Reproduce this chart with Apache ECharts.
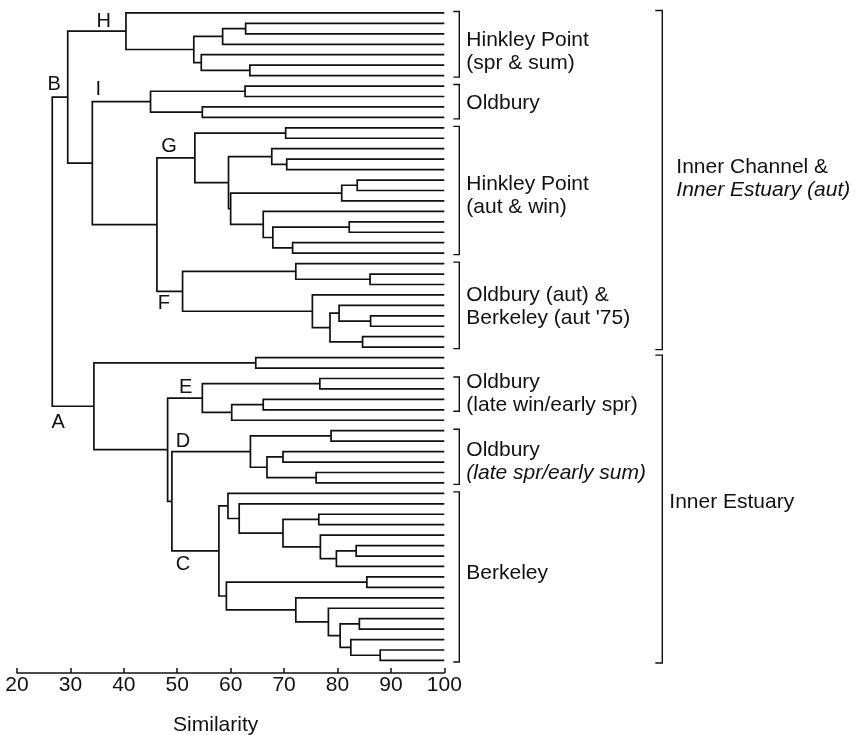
<!DOCTYPE html>
<html><head><meta charset="utf-8">
<script src="https://cdn.jsdelivr.net/npm/echarts@6/dist/echarts.min.js"></script>
<style>html,body{margin:0;padding:0;background:#fff}#c{width:860px;height:735px}</style>
</head><body><div id="c"></div>
<script>
// ---------- data ----------
const leafCount = 63;             // samples (leaves), top to bottom
const xTicks = [20, 30, 40, 50, 60, 70, 80, 90, 100];
const axisTitle = 'Similarity';
// linkage rows: [childA, childB, similarity]; leaves are 0..62, node k is leafCount + row index
const linkage = [
  [1, 2, 62.8], [63, 3, 58.5], [5, 6, 63.6], [4, 65, 54.5], [64, 66, 53.1], [0, 67, 40.4],
  [7, 8, 62.7], [9, 10, 54.7], [69, 70, 45.0],
  [11, 12, 70.3], [14, 15, 70.5], [13, 73, 67.7], [16, 17, 83.7], [75, 18, 80.8],
  [20, 21, 82.2], [22, 23, 71.6], [77, 78, 67.9], [19, 79, 66.1], [76, 80, 60.0],
  [74, 81, 59.6], [72, 82, 53.3],
  [25, 26, 86.1], [24, 84, 72.2], [29, 30, 86.2], [28, 86, 80.3], [31, 32, 84.7],
  [87, 88, 78.6], [27, 89, 75.3], [85, 90, 51.0],
  [83, 91, 46.2], [71, 92, 34.1], [68, 93, 29.5],
  [33, 34, 64.7],
  [35, 36, 76.7], [37, 38, 66.1], [97, 39, 60.2], [96, 98, 54.7],
  [40, 41, 78.8], [42, 43, 69.8], [44, 45, 76.0], [101, 102, 66.8], [100, 103, 63.7],
  [48, 49, 76.5], [51, 52, 83.5], [106, 53, 79.8], [50, 107, 76.8], [105, 108, 69.8],
  [47, 109, 61.6], [46, 110, 59.5],
  [54, 55, 85.5], [58, 59, 84.1], [61, 62, 88.0], [60, 114, 82.5], [113, 115, 80.5],
  [57, 116, 78.3], [56, 117, 72.2], [112, 118, 59.2], [111, 119, 57.8],
  [104, 120, 49.0], [99, 121, 48.2], [95, 122, 34.4], [94, 123, 26.6]
];
// small groups (first leaf, last leaf, text lines, row of first text line)
const groupFirst = [0, 7, 11, 24, 35, 40, 46];
const groupLast  = [6, 10, 23, 32, 38, 45, 62];
const groupText  = [['Hinkley Point', '(spr & sum)'], ['Oldbury'], ['Hinkley Point', '(aut & win)'],
  ['Oldbury (aut) &', "Berkeley (aut '75)"], ['Oldbury', '(late win/early spr)'],
  ['Oldbury', '(late spr/early sum)'], ['Berkeley']];
const groupRow   = [2.59, 8.62, 16.38, 27.01, 35.34, 41.85, 53.6];
// large zones
const zoneFirst = [0, 33];
const zoneLast  = [32, 62];
const zoneText  = [['Inner Channel &', 'Inner Estuary (aut)'], ['Inner Estuary']];
const zoneRow   = [14.75, 46.8];
const italicLines = ['(late spr/early sum)', 'Inner Estuary (aut)'];
// branch letters: letter, the node whose branch it marks
const letterNames = ['H', 'B', 'I', 'G', 'F', 'A', 'E', 'D', 'C'];
const letterNode  = [68, 94, 71, 83, 91, 123, 99, 104, 120];

// ---------- layout from data ----------
const nodeX = [], nodeY = [], parent = [];
for (let i = 0; i < leafCount; i++) { nodeX[i] = 100; nodeY[i] = i; }
linkage.forEach(([a, b, s], k) => {
  const id = leafCount + k;
  nodeX[id] = s; nodeY[id] = (nodeY[a] + nodeY[b]) / 2;
  parent[a] = id; parent[b] = id;
});
const linkData = linkage.map(([a, b, s], k) => [s, nodeY[leafCount + k], nodeX[a], nodeY[a], nodeX[b], nodeY[b]]);
const letterData = letterNode.map((n, i) => [nodeX[parent[n]], nodeY[n], i]);
// letter offsets (px) relative to parent x / branch y
const letterOff = [[36, -10], [2, -13], [6, -12.5], [12, -11], [7, 12.5], [6, 16], [18, -11], [11, -10.5], [11, 14]];

const FONT = '"Liberation Sans", Arial, Helvetica, sans-serif';
const INK = '#111';

function textLines(lines, x, y0) {
  return lines.map((t, j) => ({
    type: 'text',
    style: { text: t, x: x, y: y0 + j * 23, font: (italicLines.includes(t) ? 'italic ' : '') + '21px ' + FONT,
      fill: INK, textAlign: 'left', textVerticalAlign: 'middle', verticalAlign: 'middle' }
  }));
}
function bracket(api, first, last, dx, tick, ext) {
  const t = api.coord([100, first]), b = api.coord([100, last]);
  const x = t[0] + dx;
  return { type: 'polyline', shape: { points: [[x - tick, t[1] - ext], [x, t[1] - ext], [x, b[1] + ext], [x - tick, b[1] + ext]] },
    style: { stroke: INK, lineWidth: 1.4, fill: 'none' } };
}

const chart = echarts.init(document.getElementById('c'), null, { renderer: 'canvas' });
chart.setOption({
  animation: false,
  backgroundColor: '#fff',
  grid: { left: 17, right: 415.7, top: 2.5, bottom: 62, containLabel: false, outerBoundsMode: 'none' },
  xAxis: {
    type: 'value', position: 'bottom', min: xTicks[0], max: xTicks[xTicks.length - 1], interval: xTicks[1] - xTicks[0],
    name: axisTitle, nameLocation: 'middle', nameGap: 42,
    nameTextStyle: { fontFamily: FONT, fontSize: 21, color: INK, padding: [0, 30, 0, 0] },
    axisLine: { show: true, onZero: false, lineStyle: { color: INK, width: 1.5 } },
    axisTick: { show: true, inside: true, length: 5, lineStyle: { color: INK, width: 1.5 } },
    axisLabel: { fontFamily: FONT, fontSize: 21, color: INK, margin: 2 },
    splitLine: { show: false }
  },
  yAxis: { type: 'value', inverse: true, min: -1, max: 63.2, show: false },
  series: [
    {
      type: 'custom', name: 'links', data: linkData, clip: false,
      encode: { x: [0, 2, 4], y: [1, 3, 5] },
      renderItem(params, api) {
        const n = api.coord([api.value(0), api.value(1)]);
        const a = api.coord([api.value(2), api.value(3)]);
        const b = api.coord([api.value(4), api.value(5)]);
        return { type: 'polyline',
          shape: { points: [[a[0], a[1]], [n[0], a[1]], [n[0], b[1]], [b[0], b[1]]] },
          style: { stroke: INK, lineWidth: 1.7, fill: 'none' } };
      }
    },
    {
      type: 'custom', name: 'groups', clip: false,
      data: groupFirst.map((f, i) => [100, f, groupLast[i], groupRow[i], i]),
      encode: { x: 0, y: [1, 2] },
      renderItem(params, api) {
        const i = api.value(4);
        const p = api.coord([100, api.value(3)]);
        return { type: 'group', children: [bracket(api, api.value(1), api.value(2), 15, 6, 1.5)]
          .concat(textLines(groupText[i], p[0] + 22, p[1])) };
      }
    },
    {
      type: 'custom', name: 'zones', clip: false,
      data: zoneFirst.map((f, i) => [100, f, zoneLast[i], zoneRow[i], i]),
      encode: { x: 0, y: [1, 2] },
      renderItem(params, api) {
        const i = api.value(4);
        const p = api.coord([100, api.value(3)]);
        return { type: 'group', children: [bracket(api, api.value(1), api.value(2), 218, 7, 2.5)]
          .concat(textLines(zoneText[i], p[0] + (i === 0 ? 232 : 225), p[1])) };
      }
    },
    {
      type: 'custom', name: 'letters', clip: false, data: letterData,
      encode: { x: 0, y: 1 },
      renderItem(params, api) {
        const i = api.value(2);
        const p = api.coord([api.value(0), api.value(1)]);
        return { type: 'text', style: { text: letterNames[i], x: p[0] + letterOff[i][0], y: p[1] + letterOff[i][1],
          font: '20px ' + FONT, fill: INK, textAlign: 'center', textVerticalAlign: 'middle', verticalAlign: 'middle' } };
      }
    }
  ]
});
</script></body></html>
